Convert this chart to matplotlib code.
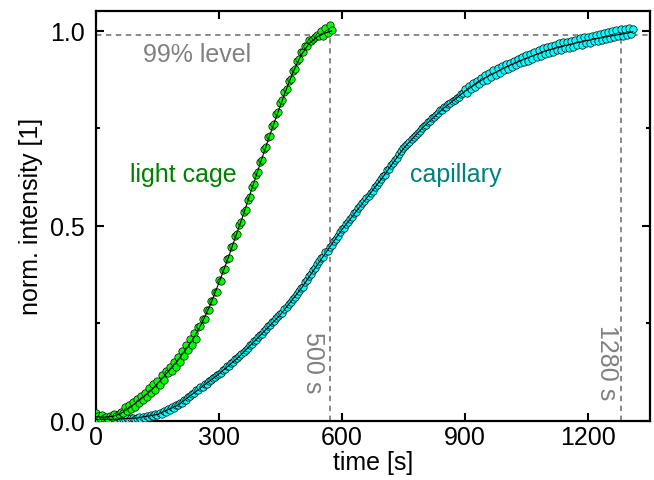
import matplotlib
matplotlib.use("Agg")
import matplotlib.pyplot as plt
from matplotlib.ticker import MultipleLocator

plt.rcParams['font.family'] = ['Liberation Sans', 'DejaVu Sans']

# ---------------- data ----------------
cage_t0, cage_dt = 0, 5
cage_v = [
    0.020, 0.012, 0.008, 0.015, 0.006, 0.010, 0.004, 0.012, 0.009, 0.018,
    0.011, 0.016, 0.022, 0.019, 0.034, 0.024, 0.040, 0.030, 0.048, 0.036,
    0.055, 0.045, 0.064, 0.052, 0.072, 0.060, 0.083, 0.070, 0.094, 0.080,
    0.103, 0.092, 0.118, 0.104, 0.127, 0.122, 0.138, 0.127, 0.150, 0.138,
    0.164, 0.150, 0.180, 0.165, 0.194, 0.181, 0.210, 0.195, 0.226, 0.209,
    0.240, 0.243, 0.262, 0.262, 0.285, 0.284, 0.306, 0.308, 0.330, 0.331,
    0.360, 0.358, 0.386, 0.388, 0.414, 0.417, 0.445, 0.448, 0.473, 0.480,
    0.503, 0.510, 0.535, 0.541, 0.567, 0.574, 0.599, 0.607, 0.631, 0.639,
    0.665, 0.670, 0.697, 0.701, 0.727, 0.730, 0.757, 0.761, 0.787, 0.791,
    0.815, 0.822, 0.843, 0.851, 0.871, 0.878, 0.898, 0.903, 0.923, 0.927,
    0.945, 0.947, 0.962, 0.962, 0.976, 0.974, 0.980, 0.984, 0.989, 0.988,
    0.999, 0.987, 1.008, 0.995, 1.016, 1.002,
]
cage_t = [cage_t0 + i * cage_dt for i in range(len(cage_v))]

cap_t0, cap_dt = 0, 5
cap_v = [
    0.004, 0.001, 0.006, 0.002, 0.005, 0.000, 0.004, 0.007, 0.002, 0.005,
    0.003, 0.006, 0.002, 0.005, 0.004, 0.007, 0.003, 0.006, 0.008, 0.004,
    0.006, 0.009, 0.005, 0.010, 0.008, 0.012, 0.009, 0.014, 0.011, 0.016,
    0.015, 0.019, 0.018, 0.024, 0.023, 0.029, 0.028, 0.034, 0.033, 0.039,
    0.040, 0.046, 0.046, 0.054, 0.054, 0.061, 0.063, 0.069, 0.071, 0.078,
    0.080, 0.086, 0.087, 0.094, 0.095, 0.101, 0.105, 0.109, 0.113, 0.118,
    0.121, 0.123, 0.131, 0.132, 0.140, 0.141, 0.149, 0.151, 0.158, 0.161,
    0.166, 0.170, 0.177, 0.181, 0.187, 0.193, 0.197, 0.204, 0.208, 0.215,
    0.219, 0.222, 0.231, 0.234, 0.242, 0.245, 0.253, 0.256, 0.264, 0.268,
    0.274, 0.277, 0.287, 0.291, 0.299, 0.304, 0.313, 0.318, 0.325, 0.333,
    0.340, 0.344, 0.356, 0.360, 0.371, 0.376, 0.386, 0.392, 0.401, 0.409,
    0.417, 0.421, 0.432, 0.436, 0.446, 0.451, 0.461, 0.467, 0.474, 0.484,
    0.492, 0.495, 0.505, 0.510, 0.518, 0.522, 0.532, 0.536, 0.545, 0.550,
    0.559, 0.563, 0.572, 0.576, 0.585, 0.590, 0.599, 0.604, 0.612, 0.619,
    0.627, 0.631, 0.642, 0.645, 0.656, 0.660, 0.670, 0.675, 0.684, 0.691,
    0.699, 0.705, 0.710, 0.716, 0.722, 0.727, 0.733, 0.739, 0.744, 0.750,
    0.757, 0.759, 0.767, 0.770, 0.776, 0.780, 0.785, 0.789, 0.796, 0.798,
    0.805, 0.806, 0.813, 0.815, 0.820, 0.824, 0.829, 0.831, 0.838, 0.840,
    0.852, 0.841, 0.858, 0.850, 0.866, 0.855, 0.872, 0.864, 0.879, 0.871,
    0.887, 0.875, 0.893, 0.882, 0.899, 0.887, 0.904, 0.893, 0.911, 0.899,
    0.914, 0.902, 0.919, 0.907, 0.924, 0.912, 0.929, 0.917, 0.934, 0.921,
    0.938, 0.924, 0.942, 0.928, 0.947, 0.932, 0.951, 0.936, 0.955, 0.940,
    0.958, 0.943, 0.961, 0.947, 0.964, 0.950, 0.968, 0.952, 0.971, 0.956,
    0.972, 0.957, 0.975, 0.960, 0.978, 0.963, 0.981, 0.965, 0.984, 0.968,
    0.985, 0.970, 0.988, 0.973, 0.990, 0.975, 0.993, 0.978, 0.995, 0.980,
    0.997, 0.981, 0.999, 0.984, 1.002, 0.986, 1.004, 0.988, 1.006, 0.990,
    1.008, 0.992, 1.004,
]
cap_t = [cap_t0 + i * cap_dt for i in range(len(cap_v))]

# smooth fit curves
cage_fit_t = [0, 20, 40, 60, 80, 100, 120, 140, 160, 180, 200, 220, 240, 260,
              280, 300, 320, 340, 360, 380, 400, 420, 440, 460, 480, 500, 520,
              540, 560, 575]
cage_fit_v = [0.010, 0.009, 0.011, 0.018, 0.032, 0.048, 0.064, 0.084, 0.107,
              0.131, 0.156, 0.184, 0.215, 0.254, 0.300, 0.354, 0.410, 0.470,
              0.530, 0.594, 0.658, 0.720, 0.780, 0.838, 0.892, 0.937, 0.968,
              0.985, 0.995, 1.000]
cap_fit_t = [0, 50, 100, 150, 200, 250, 300, 350, 400, 450, 500, 550, 600, 650,
             700, 750, 800, 850, 900, 950, 1000, 1050, 1100, 1150, 1200, 1250,
             1300, 1310]
cap_fit_v = [0.003, 0.004, 0.007, 0.016, 0.040, 0.080, 0.120, 0.165, 0.218,
             0.272, 0.338, 0.415, 0.490, 0.557, 0.625, 0.698, 0.755, 0.803,
             0.845, 0.880, 0.907, 0.930, 0.950, 0.964, 0.976, 0.986, 0.995,
             0.998]

level_99 = 0.99
t99_cage = 572
t99_cap = 1282

x_ticks = [0, 300, 600, 900, 1200]
y_ticks = [0.0, 0.5, 1.0]
y_tick_labels = ["0.0", "0.5", "1.0"]

# ---------------- plot ----------------
fs = 18
fig = plt.figure(figsize=(6.54, 4.81), dpi=100)
ax = fig.add_axes([0.1468, 0.1233, 0.8471, 0.8524])

gray = "#808080"
dash = (0, (3, 2.5))
ax.axhline(level_99, color=gray, ls=dash, lw=1.3, zorder=1)
ax.plot([t99_cage, t99_cage], [0, level_99], color=gray, ls=dash, lw=1.3, zorder=1)
ax.plot([t99_cap, t99_cap], [0, level_99], color=gray, ls=dash, lw=1.3, zorder=1)

ax.scatter(cap_t, cap_v, s=28, facecolor="#00ffff", edgecolor="#000000",
           linewidths=0.5, zorder=3)
ax.scatter(cage_t, cage_v, s=28, facecolor="#00ff00", edgecolor="#000000",
           linewidths=0.5, zorder=3)
ax.plot(cap_fit_t, cap_fit_v, color="black", lw=0.8, zorder=4)
ax.plot(cage_fit_t, cage_fit_v, color="black", lw=0.8, zorder=4)

ax.text(115, 0.94, "99% level", color=gray, fontsize=fs, va="center", ha="left")
ax.text(212, 0.632, "light cage", color="#008000", fontsize=fs, va="center", ha="center")
ax.text(878, 0.632, "capillary", color="#008080", fontsize=fs, va="center", ha="center")
ax.text(530, 0.152, "500 s", color=gray, fontsize=fs, rotation=-90, va="center", ha="center")
ax.text(1246, 0.152, "1280 s", color=gray, fontsize=fs, rotation=-90, va="center", ha="center")

ax.set_xlim(0, 1352)
ax.set_ylim(0, 1.052)
ax.set_xticks(x_ticks)
ax.set_yticks(y_ticks)
ax.set_yticklabels(y_tick_labels)
ax.yaxis.set_minor_locator(MultipleLocator(0.25))
ax.tick_params(which="both", direction="in", top=True, right=True, width=1.5,
               labelsize=fs)
ax.tick_params(axis="x", which="major", pad=3)
ax.tick_params(axis="y", which="major", pad=8)
ax.tick_params(which="major", length=5.5)
ax.tick_params(which="minor", length=3)
for sp in ax.spines.values():
    sp.set_linewidth(1.6)

ax.set_xlabel("time [s]", fontsize=fs)
ax.set_ylabel("norm. intensity [1]", fontsize=fs)
ax.xaxis.set_label_coords(0.5, -0.1007)
ax.xaxis.label.set_va("center")
ax.yaxis.set_label_coords(-0.117, 0.5)
ax.yaxis.label.set_va("center")
ax.yaxis.label.set_ha("center")

fig.savefig("out.png", dpi=100)
